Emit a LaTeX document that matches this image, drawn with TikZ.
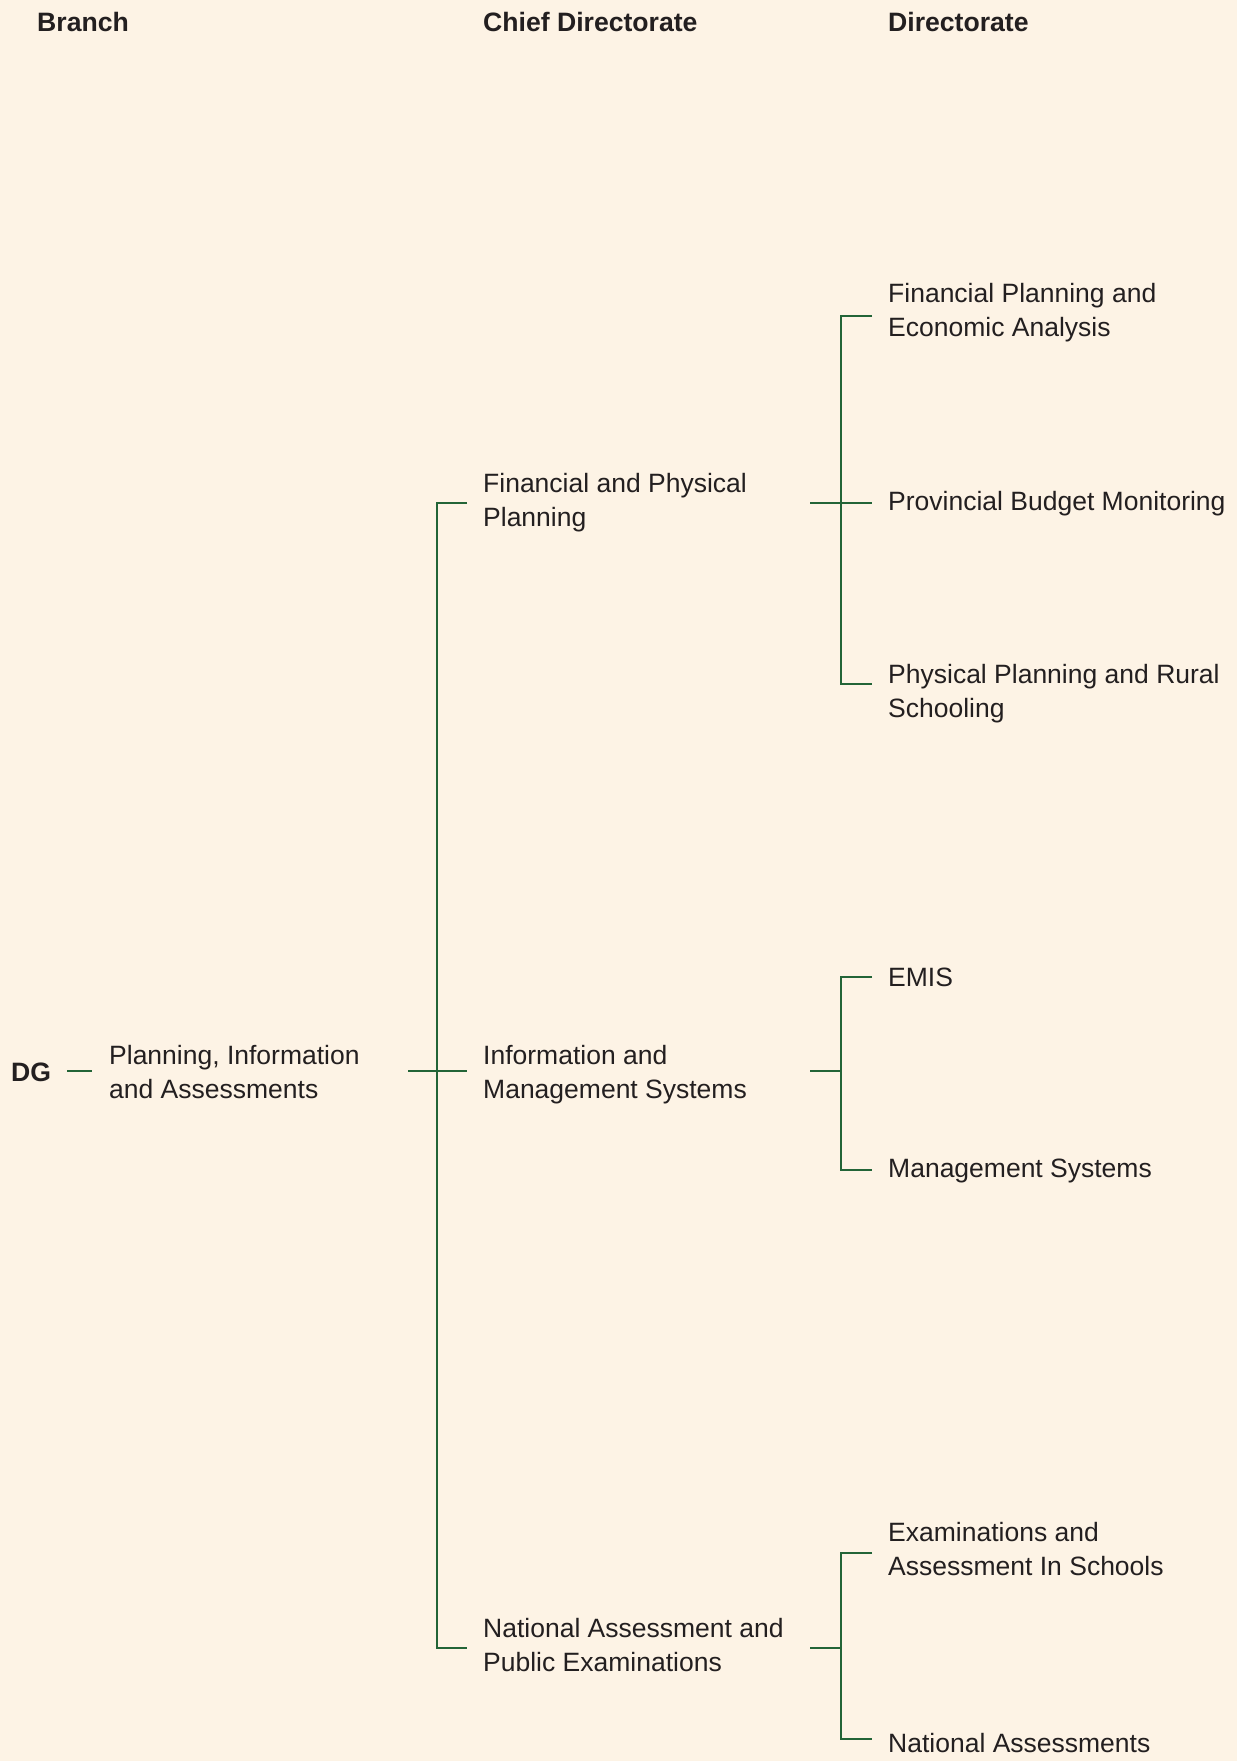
\documentclass[tikz,border=0pt]{standalone}
\usepackage{fontspec}
\setmainfont{Liberation Sans}
\definecolor{bgcream}{RGB}{253,243,229}
\definecolor{linegreen}{RGB}{35,100,55}
\definecolor{txt}{RGB}{35,31,32}
\newcommand{\lblfont}{\fontsize{26.5}{34}\selectfont}
\newcommand{\hdrfont}{\bfseries\fontsize{26.6}{34}\selectfont}
\newcommand{\mlines}[1]{\begin{tabular}[t]{@{}l@{}}#1\end{tabular}}
\begin{document}
\begin{tikzpicture}[x=1pt,y=-1pt,
  conn/.style={draw=linegreen,line width=1.4pt},
  hdr/.style={font=\hdrfont,anchor=base west,inner sep=0pt,text=txt},
  lbl/.style={font=\lblfont,anchor=base west,inner sep=0pt,text=txt}]
\fill[bgcream] (0,0) rectangle (1237,1761);
\useasboundingbox (0,0) rectangle (1237,1761);

% headers
\node[hdr] (hb) at (37,32) {Branch};
\node[hdr] (hc) at (483,32) {Chief Directorate};
\node[hdr] (hd) at (888,32) {Directorate};

% nodes
\node[hdr] (dg) at (11,1081) {DG};
\node[lbl] (pia) at (109,1064) {\mlines{Planning, Information\\and Assessments}};
\node[lbl] (fpp) at (483,492) {\mlines{Financial and Physical\\Planning}};
\node[lbl] (ims) at (483,1064) {\mlines{Information and\\Management Systems}};
\node[lbl] (nape) at (483,1637) {\mlines{National Assessment and\\Public Examinations}};
\node[lbl] (fpea) at (888,302) {\mlines{Financial Planning and\\Economic Analysis}};
\node[lbl] (pbm) at (888,510) {Provincial Budget Monitoring};
\node[lbl] (pprs) at (888,683) {\mlines{Physical Planning and Rural\\Schooling}};
\node[lbl] (emis) at (888,986) {EMIS};
\node[lbl] (ms) at (888,1177) {Management Systems};
\node[lbl] (eas) at (888,1541) {\mlines{Examinations and\\Assessment In Schools}};
\node[lbl] (na) at (888,1752) {National Assessments};

% joints
\coordinate (s1a) at (437,503);
\coordinate (s1m) at (437,1071);
\coordinate (s1b) at (437,1648);
\coordinate (s2a) at (841,316);
\coordinate (s2m) at (841,503);
\coordinate (s2b) at (841,684);
\coordinate (s3a) at (841,977);
\coordinate (s3m) at (841,1071);
\coordinate (s3b) at (841,1170);
\coordinate (s4a) at (841,1553);
\coordinate (s4m) at (841,1648);
\coordinate (s4b) at (841,1739);

% DG -> branch
\draw[conn,shorten <=16pt,shorten >=17pt] (dg.east |- s1m) -- (pia.west |- s1m);
% branch -> chief directorates
\draw[conn] ([xshift=-29pt]s1m) -- ([xshift=-16pt]ims.west |- s1m);
\draw[conn] ([xshift=-16pt]fpp.west |- s1a) -- (s1a) -- (s1b) -- ([xshift=-16pt]nape.west |- s1b);

% chief -> directorates (group 1)
\draw[conn] ([xshift=-31pt]s2m) -- ([xshift=-16pt]pbm.west |- s2m);
\draw[conn] ([xshift=-16pt]fpea.west |- s2a) -- (s2a) -- (s2b) -- ([xshift=-16pt]pprs.west |- s2b);
% group 2
\draw[conn] ([xshift=-31pt]s3m) -- (s3m);
\draw[conn] ([xshift=-16pt]emis.west |- s3a) -- (s3a) -- (s3b) -- ([xshift=-16pt]ms.west |- s3b);
% group 3
\draw[conn] ([xshift=-31pt]s4m) -- (s4m);
\draw[conn] ([xshift=-16pt]eas.west |- s4a) -- (s4a) -- (s4b) -- ([xshift=-16pt]na.west |- s4b);
\end{tikzpicture}
\end{document}
